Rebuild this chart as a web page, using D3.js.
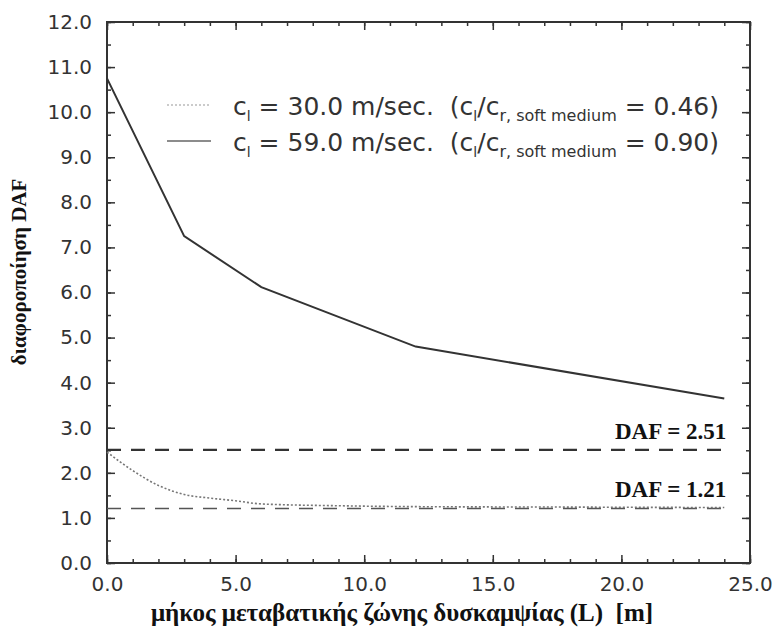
<!DOCTYPE html>
<html>
<head>
<meta charset="utf-8">
<script src="https://cdn.jsdelivr.net/npm/d3@7"></script>
<style>
  body { margin: 0; background: #fff; }
  text { white-space: pre; }
  .tick text { font-family: "DejaVu Sans", sans-serif; font-size: 20px; fill: #333; }
  .tick line { stroke: #333; stroke-width: 1.5; }
  .lbl { font-family: "Liberation Serif", serif; font-weight: bold; fill: #111; }
  .leg { font-family: "DejaVu Sans", sans-serif; fill: #333; }
</style>
</head>
<body>
<div id="chart"></div>
<script>
// tick values
var xMajor = [0, 5, 10, 15, 20, 25];
var xMinor = d3.range(0, 26, 1);
var yMajor = d3.range(0, 13, 1);
var yMinor = d3.range(0, 12.5, 0.5);

// c_l = 59.0 m/sec (solid)
var stiffL = [0, 3, 6, 12, 24];
var stiffDAF = [10.75, 7.25, 6.12, 4.8, 3.65];

// c_l = 30.0 m/sec (dotted)
var softL = [0, 1, 2, 3, 4, 5, 6, 9, 12, 18, 24];
var softDAF = [2.46, 2.05, 1.72, 1.52, 1.44, 1.38, 1.31, 1.27, 1.25, 1.24, 1.23];

// reference levels
var dafLevels = [2.51, 1.21];
var dafLabels = ["DAF = 2.51", "DAF = 1.21"];
var dafEnd = 24;

(function() {
  var margin = {top: 22, right: 27, bottom: 71, left: 107};
  var W = 777, H = 634;
  var width = W - margin.left - margin.right;
  var height = H - margin.top - margin.bottom;

  var svg = d3.select("#chart").append("svg").attr("width", W).attr("height", H);
  var g = svg.append("g").attr("transform", "translate(" + margin.left + "," + margin.top + ")");

  var x = d3.scaleLinear().domain([0, 25]).range([0, width]);
  var y = d3.scaleLinear().domain([0, 12]).range([height, 0]);
  var fmt = d3.format(".1f");

  // minor ticks, all four sides
  g.append("g").attr("transform", "translate(0," + height + ")").call(d3.axisBottom(x).tickValues(xMinor).tickSize(-4).tickFormat(""));
  g.append("g").call(d3.axisTop(x).tickValues(xMinor).tickSize(-4).tickFormat(""));
  g.append("g").call(d3.axisLeft(y).tickValues(yMinor).tickSize(-4).tickFormat(""));
  g.append("g").attr("transform", "translate(" + width + ",0)").call(d3.axisRight(y).tickValues(yMinor).tickSize(-4).tickFormat(""));

  // major ticks
  g.append("g").attr("transform", "translate(0," + height + ")").call(d3.axisBottom(x).tickValues(xMajor).tickSize(-8).tickPadding(14).tickFormat(fmt));
  g.append("g").call(d3.axisTop(x).tickValues(xMajor).tickSize(-8).tickFormat(""));
  g.append("g").call(d3.axisLeft(y).tickValues(yMajor).tickSize(-8).tickPadding(15).tickFormat(fmt));
  g.append("g").attr("transform", "translate(" + width + ",0)").call(d3.axisRight(y).tickValues(yMajor).tickSize(-8).tickFormat(""));

  g.selectAll(".domain").remove();

  g.append("rect").attr("width", width).attr("height", height)
    .attr("fill", "none").attr("stroke", "#333").attr("stroke-width", 2);

  var line = d3.line().x(function(d) { return x(d[0]); }).y(function(d) { return y(d[1]); });

  // reference dashed levels
  dafLevels.forEach(function(v, i) {
    g.append("path").datum([[0, v], [dafEnd, v]]).attr("d", line)
      .attr("fill", "none").attr("stroke", i === 0 ? "#333" : "#555")
      .attr("stroke-width", i === 0 ? 2.2 : 1.6)
      .attr("stroke-dasharray", "14,10");
    g.append("text").attr("class", "lbl").attr("x", x(dafEnd) + 2).attr("y", y(v) - 11)
      .attr("text-anchor", "end").style("font-size", "23px").text(dafLabels[i]);
  });

  g.append("path").datum(d3.zip(softL, softDAF))
    .attr("d", line.curve(d3.curveMonotoneX))
    .attr("fill", "none").attr("stroke", "#777").attr("stroke-width", 1.6)
    .attr("stroke-dasharray", "2,2");
  line.curve(d3.curveLinear);

  g.append("path").datum(d3.zip(stiffL, stiffDAF)).attr("d", line)
    .attr("fill", "none").attr("stroke", "#333").attr("stroke-width", 2);

  // legend
  var legend = [
    {val: "30.0", ratio: "0.46", stroke: "#bbb", dash: "2,2", w: 1.4},
    {val: "59.0", ratio: "0.90", stroke: "#666", dash: null, w: 1.5}
  ];
  legend.forEach(function(d, i) {
    var ly = 105 + i * 36 - margin.top;
    g.append("line").attr("x1", 60).attr("x2", 104).attr("y1", ly).attr("y2", ly)
      .attr("stroke", d.stroke).attr("stroke-width", d.w).attr("stroke-dasharray", d.dash);
    var t = g.append("text").attr("class", "leg").attr("x", 126).attr("y", ly + 10).style("font-size", "25px");
    t.append("tspan").text("c");
    t.append("tspan").attr("dy", 6).style("font-size", "14px").text("l");
    t.append("tspan").attr("dy", -6).text(" = " + d.val + " m/sec.  (c");
    t.append("tspan").attr("dy", 6).style("font-size", "14px").text("l");
    t.append("tspan").attr("dy", -6).text("/c");
    t.append("tspan").attr("dy", 6).style("font-size", "16px").text("r, soft medium");
    t.append("tspan").attr("dy", -6).text(" = " + d.ratio + ")");
  });

  // axis titles
  svg.append("text").attr("class", "lbl").attr("x", 402).attr("y", 621)
    .attr("text-anchor", "middle").style("font-size", "25px")
    .text("μήκος μεταβατικής ζώνης δυσκαμψίας (L)  [m]");
  svg.append("text").attr("class", "lbl")
    .attr("transform", "translate(26,272) rotate(-90)")
    .attr("text-anchor", "middle").style("font-size", "21px")
    .text("διαφοροποίηση DAF");
})();
</script>
</body>
</html>
